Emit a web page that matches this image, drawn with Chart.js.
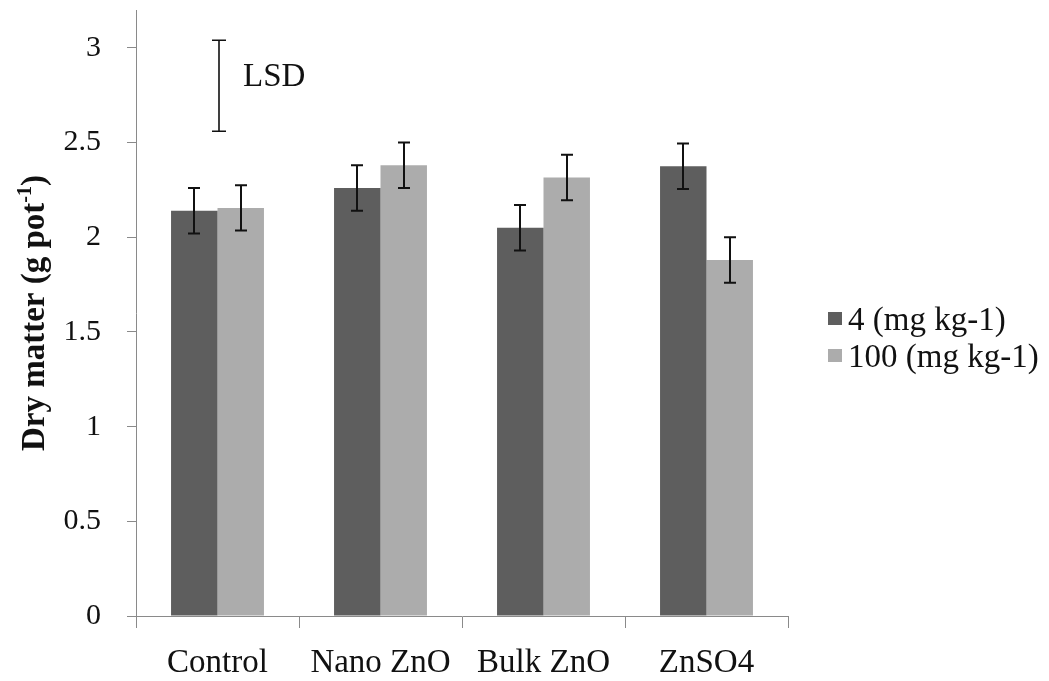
<!DOCTYPE html>
<html>
<head>
<meta charset="utf-8">
<title>Dry matter</title>
<script src="https://cdn.jsdelivr.net/npm/chart.js@4/dist/chart.umd.min.js"></script>
<style>
  html, body { margin: 0; padding: 0; background: #ffffff; }
  #wrap { width: 1049px; height: 681px; }
</style>
</head>
<body>
<div id="wrap"><canvas id="chart" width="1049" height="681"></canvas></div>
<script>
// Treatments along the x axis
const categories = ['Control', 'Nano ZnO', 'Bulk ZnO', 'ZnSO4'];

// Dry matter (g pot-1) for the two Zn rates
const seriesNames = ['4 (mg kg-1)', '100 (mg kg-1)'];
const dose4 = [2.14, 2.26, 2.05, 2.375];
const dose100 = [2.155, 2.38, 2.315, 1.88];

// Error bar half-lengths
const err4 = [0.12, 0.12, 0.12, 0.12];
const err100 = [0.12, 0.12, 0.12, 0.12];

// Least significant difference bar (drawn above the first group)
const lsdLength = 0.48;
const lsdCenter = 2.8;

// Y axis range and tick step
const yMin = 0;
const yMax = 3.2;
const yStep = 0.5;

const colors = ['#5e5e5e', '#acacac'];
const serif = "'Liberation Serif', 'Times New Roman', serif";

const errorBars = {
  id: 'errorBars',
  afterDatasetsDraw(chart) {
    const ctx = chart.ctx;
    const y = chart.scales.y;
    const x = chart.scales.x;
    ctx.save();
    ctx.strokeStyle = '#111111';
    ctx.lineWidth = 2;
    chart.data.datasets.forEach((ds, i) => {
      const meta = chart.getDatasetMeta(i);
      meta.data.forEach((bar, j) => {
        const v = ds.data[j];
        const e = ds.errors[j];
        const yt = y.getPixelForValue(v + e);
        const yb = y.getPixelForValue(v - e);
        const cx = Math.round(bar.x);
        ctx.beginPath();
        ctx.moveTo(cx, yt); ctx.lineTo(cx, yb);
        ctx.moveTo(cx - 6, yt); ctx.lineTo(cx + 6, yt);
        ctx.moveTo(cx - 6, yb); ctx.lineTo(cx + 6, yb);
        ctx.stroke();
      });
    });

    // LSD bar
    const lx = Math.round(x.getPixelForValue(0)) + 1;
    const lt = y.getPixelForValue(lsdCenter + lsdLength / 2);
    const lb = y.getPixelForValue(lsdCenter - lsdLength / 2);
    ctx.lineWidth = 1.6;
    ctx.beginPath();
    ctx.moveTo(lx, lt); ctx.lineTo(lx, lb);
    ctx.moveTo(lx - 7, lt); ctx.lineTo(lx + 7, lt);
    ctx.moveTo(lx - 7, lb); ctx.lineTo(lx + 7, lb);
    ctx.stroke();
    ctx.fillStyle = '#111111';
    ctx.font = '33px ' + serif;
    ctx.textAlign = 'left';
    ctx.textBaseline = 'middle';
    ctx.fillText('LSD', lx + 24, (lt + lb) / 2 - 8);
    ctx.restore();
  }
};

const axisTitle = {
  id: 'axisTitle',
  afterDraw(chart) {
    const ctx = chart.ctx;
    const area = chart.chartArea;
    const main = 'Dry matter (g pot';
    const sup = '-1';
    const tail = ')';
    ctx.save();
    ctx.fillStyle = '#111111';
    ctx.textBaseline = 'alphabetic';
    ctx.font = 'bold 33px ' + serif;
    const wMain = ctx.measureText(main).width;
    const wTail = ctx.measureText(tail).width;
    ctx.font = 'bold 20px ' + serif;
    const wSup = ctx.measureText(sup).width;
    const total = wMain + wSup + wTail;
    ctx.translate(44, (area.top + area.bottom) / 2);
    ctx.rotate(-Math.PI / 2);
    let px = -total / 2;
    ctx.font = 'bold 33px ' + serif;
    ctx.fillText(main, px, 0);
    px += wMain;
    ctx.font = 'bold 20px ' + serif;
    ctx.fillText(sup, px, -13);
    px += wSup;
    ctx.font = 'bold 33px ' + serif;
    ctx.fillText(tail, px, 0);
    ctx.restore();
  }
};

const sideLegend = {
  id: 'sideLegend',
  afterDraw(chart) {
    const ctx = chart.ctx;
    const rows = [320, 357];
    ctx.save();
    ctx.font = '33px ' + serif;
    ctx.textAlign = 'left';
    ctx.textBaseline = 'middle';
    chart.data.datasets.forEach((ds, i) => {
      const cy = rows[i];
      ctx.fillStyle = ds.backgroundColor;
      ctx.fillRect(828, cy - 8, 14, 13);
      ctx.fillStyle = '#111111';
      ctx.fillText(ds.label, 848, cy + 1);
    });
    ctx.restore();
  }
};

new Chart(document.getElementById('chart'), {
  type: 'bar',
  data: {
    labels: categories,
    datasets: [
      { label: seriesNames[0], data: dose4, errors: err4, backgroundColor: colors[0],
        borderWidth: 0, barPercentage: 1, categoryPercentage: 0.57 },
      { label: seriesNames[1], data: dose100, errors: err100, backgroundColor: colors[1],
        borderWidth: 0, barPercentage: 1, categoryPercentage: 0.57 }
    ]
  },
  options: {
    responsive: false,
    animation: false,
    devicePixelRatio: 1,
    layout: { padding: { top: 10, left: 0, right: 261, bottom: 0 } },
    plugins: {
      legend: { display: false },
      tooltip: { enabled: false }
    },
    scales: {
      x: {
        grid: { offset: true, drawOnChartArea: false, tickLength: 12, color: '#8a8a8a' },
        border: { color: '#8a8a8a', width: 1 },
        ticks: { font: { family: serif, size: 33 }, color: '#111111', padding: 16, maxRotation: 0 },
        afterFit(scale) {
          scale.height = 65;
          scale.paddingLeft = 0;
          scale.paddingRight = 0;
        }
      },
      y: {
        min: yMin,
        max: yMax,
        grid: { drawOnChartArea: false, tickLength: 9, color: '#8a8a8a' },
        border: { color: '#8a8a8a', width: 1 },
        ticks: {
          stepSize: yStep,
          includeBounds: false,
          font: { family: serif, size: 30 },
          color: '#111111',
          padding: 26,
          callback: (value) => String(value)
        },
        afterFit(scale) {
          scale.width = 136;
          scale.paddingTop = 0;
          scale.paddingBottom = 0;
        }
      }
    }
  },
  plugins: [errorBars, axisTitle, sideLegend]
});
</script>
</body>
</html>
